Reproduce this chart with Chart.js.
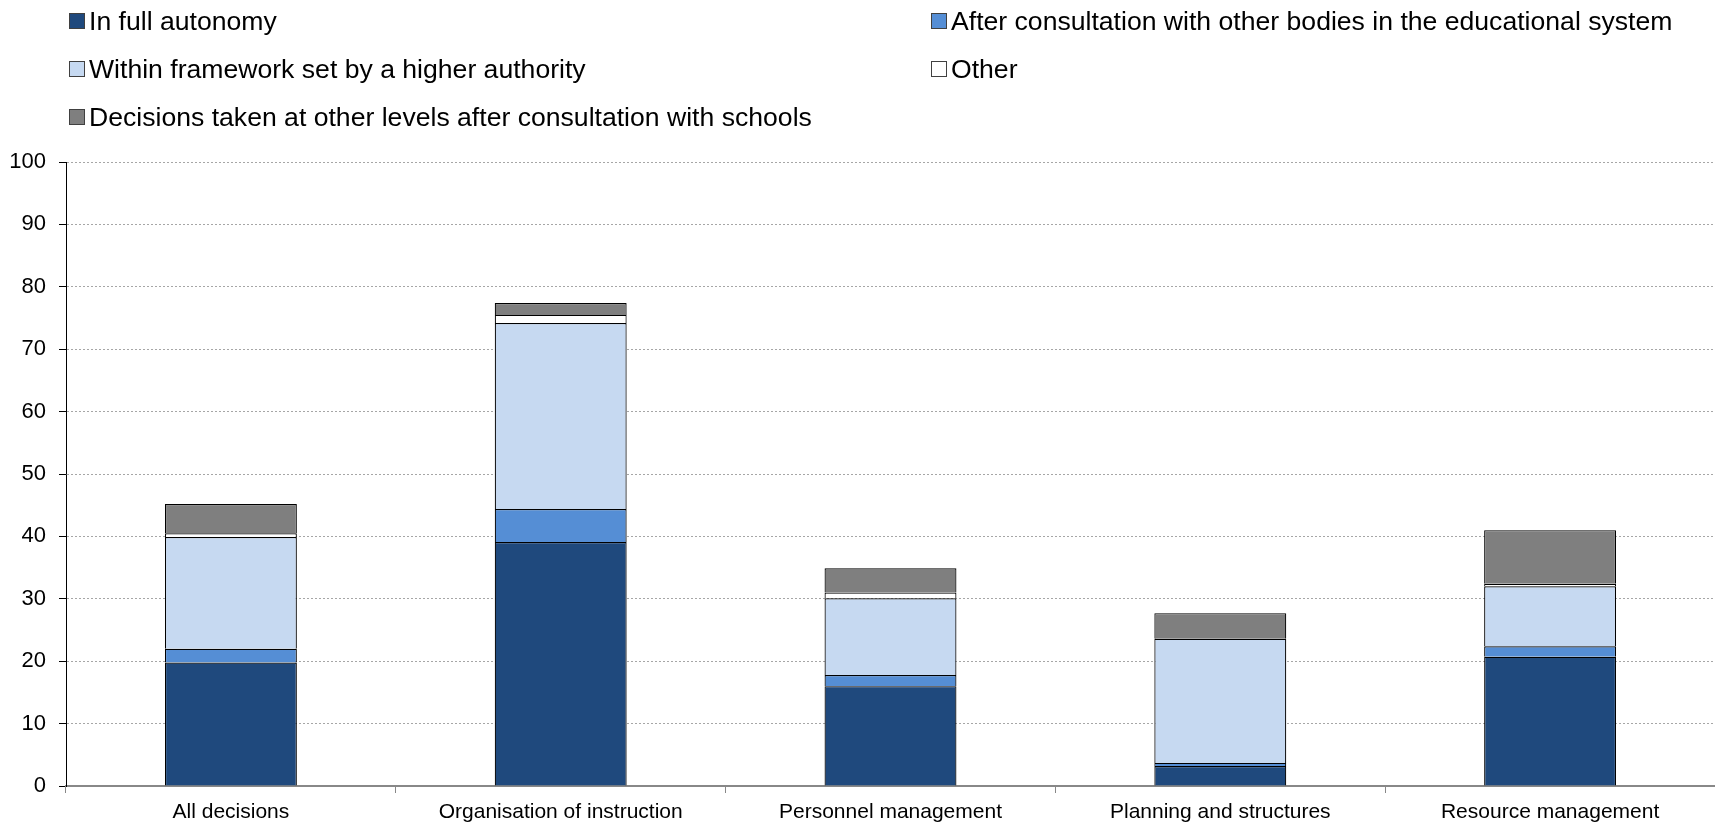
<!DOCTYPE html>
<html>
<head>
<meta charset="utf-8">
<title>School decision making</title>
<script src="https://cdn.jsdelivr.net/npm/chart.js@4/dist/chart.umd.min.js"></script>
<style>
    html, body { margin: 0; padding: 0; background: #fff; }
    #wrap { position: relative; width: 1715px; height: 823px; }
    #chart { position: absolute; left: 0; top: 0; }
    .legend-item {
        position: absolute;
        display: flex;
        align-items: center;
        font-family: 'Liberation Sans', Arial, sans-serif;
        font-size: 26.6px;
        color: #000;
        white-space: nowrap;
        height: 30px;
    }
    .legend-box {
        width: 14px;
        height: 14px;
        border: 1px solid #404040;
        margin-right: 4px;
    }
</style>
</head>
<body>
<div id="wrap">
    <canvas id="chart" width="1715" height="823"></canvas>
    <div id="legend"></div>
</div>
<script>
const categories = ['All decisions', 'Organisation of instruction', 'Personnel management', 'Planning and structures', 'Resource management'];

const fullAutonomy = [19.8, 39.1, 16.0, 3.2, 20.7];
const afterConsultation = [2.2, 5.3, 1.8, 0.5, 1.7];
const withinFramework = [17.9, 29.8, 12.3, 19.9, 9.6];
const otherMode = [0.6, 1.3, 0.9, 0.1, 0.4];
const otherLevels = [4.7, 1.9, 3.9, 4.0, 8.6];

const yTicks = [0, 10, 20, 30, 40, 50, 60, 70, 80, 90, 100];

const seriesNames = [
    'In full autonomy',
    'After consultation with other bodies in the educational system',
    'Within framework set by a higher authority',
    'Other',
    'Decisions taken at other levels after consultation with schools'
];
const seriesColors = ['#1f497d', '#558ed5', '#c6d9f1', '#ffffff', '#7f7f7f'];
const seriesData = [fullAutonomy, afterConsultation, withinFramework, otherMode, otherLevels];

const FONT = "'Liberation Sans', Arial, sans-serif";

function renderSchoolChart(canvasId) {
    const ctx = document.getElementById(canvasId);
    if (!ctx) {
        console.error(`Canvas element with ID ${canvasId} not found`);
        return null;
    }

    const datasets = seriesNames.map((name, i) => ({
        label: name,
        data: seriesData[i],
        backgroundColor: seriesColors[i],
        borderColor: '#000000',
        borderWidth: 1.2,
        barPercentage: 0.4,
        categoryPercentage: 1.0
    }));

    return new Chart(ctx, {
        type: 'bar',
        data: { labels: categories, datasets: datasets },
        options: {
            responsive: false,
            animation: false,
            layout: { padding: { top: 162, left: 0, right: 0, bottom: 0 } },
            plugins: {
                legend: { display: false },
                tooltip: { enabled: false }
            },
            scales: {
                x: {
                    stacked: true,
                    afterFit: (scale) => { scale.height = 37; },
                    grid: {
                        offset: true,
                        drawOnChartArea: false,
                        drawTicks: true,
                        tickLength: 7,
                        color: '#888888'
                    },
                    border: { display: true, color: '#888888', width: 2 },
                    ticks: {
                        color: '#000',
                        padding: 7,
                        maxRotation: 0,
                        autoSkip: false,
                        font: { family: FONT, size: 21 }
                    }
                },
                y: {
                    stacked: true,
                    min: 0,
                    max: 100,
                    afterFit: (scale) => { scale.width = 66; },
                    afterBuildTicks: (scale) => {
                        scale.ticks = yTicks.map(v => ({ value: v }));
                    },
                    grid: {
                        color: '#a6a6a6',
                        lineWidth: 1,
                        tickLength: 7,
                        tickColor: '#000000',
                        tickBorderDash: []
                    },
                    border: { display: true, color: '#000000', width: 1, dash: [2, 2] },
                    ticks: {
                        color: '#000',
                        padding: 13,
                        font: { family: FONT, size: 22 }
                    }
                }
            }
        }
    });
}

function renderLegend(chart) {
    const box = document.getElementById('legend');
    const colX = [69, 931];
    const rowY = [6, 54, 102];
    chart.data.datasets.forEach((ds, i) => {
        const item = document.createElement('div');
        item.className = 'legend-item';
        item.style.left = colX[i % 2] + 'px';
        item.style.top = rowY[Math.floor(i / 2)] + 'px';
        const swatch = document.createElement('span');
        swatch.className = 'legend-box';
        swatch.style.background = ds.backgroundColor;
        const text = document.createElement('span');
        text.textContent = ds.label;
        item.appendChild(swatch);
        item.appendChild(text);
        box.appendChild(item);
    });
}

const chart = renderSchoolChart('chart');
if (chart) renderLegend(chart);
</script>
</body>
</html>
